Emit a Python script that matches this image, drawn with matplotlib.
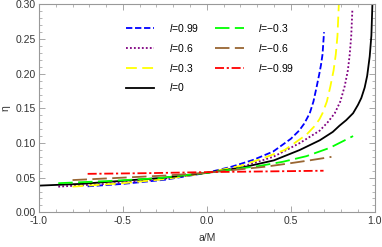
import matplotlib
matplotlib.use("Agg")
import matplotlib.pyplot as plt
from matplotlib.ticker import MultipleLocator

plt.rcParams['font.family'] = ['Liberation Sans', 'DejaVu Sans']
plt.rcParams['mathtext.fontset'] = 'custom'
plt.rcParams['mathtext.it'] = 'Liberation Sans:italic'
plt.rcParams['mathtext.rm'] = 'Liberation Sans'

# values: (a/M, eta)
a_l099 = [-0.71, -0.5, -0.25, 0.0, 0.15, 0.276, 0.395, 0.50, 0.55, 0.58, 0.613,
          0.635, 0.653, 0.67, 0.68, 0.689, 0.698]
eta_l099 = [0.0375, 0.041, 0.047, 0.057, 0.066, 0.0756, 0.0877, 0.106, 0.118, 0.128, 0.143,
            0.160, 0.180, 0.200, 0.213, 0.228, 0.26]

a_l06 = [-0.885, -0.6, -0.3, 0.0, 0.2, 0.395, 0.554, 0.673, 0.72, 0.762, 0.795,
         0.821, 0.84, 0.851, 0.86, 0.867]
eta_l06 = [0.037, 0.041, 0.047, 0.057, 0.065, 0.080, 0.100, 0.118, 0.130, 0.143, 0.160,
           0.182, 0.205, 0.228, 0.255, 0.2935]

a_l03 = [-0.80, -0.5, -0.25, 0.0, 0.2, 0.335, 0.464, 0.593, 0.64, 0.67, 0.689,
         0.715, 0.736, 0.755, 0.768, 0.778, 0.786]
eta_l03 = [0.037, 0.042, 0.048, 0.057, 0.067, 0.078, 0.090, 0.112, 0.124, 0.134, 0.143,
           0.160, 0.182, 0.205, 0.228, 0.255, 0.30]

a_l0 = [-1.0, -0.75, -0.5, -0.25, 0.0, 0.2, 0.4, 0.554, 0.673, 0.75, 0.79, 0.83,
        0.871, 0.9, 0.92, 0.94, 0.955, 0.97, 0.98, 0.986]
eta_l0 = [0.0385, 0.041, 0.0455, 0.050, 0.057, 0.064, 0.075, 0.090, 0.104, 0.116, 0.125, 0.133,
          0.143, 0.155, 0.165, 0.180, 0.197, 0.225, 0.255, 0.30]

a_lm03 = [-0.885, -0.6, -0.3, 0.0, 0.315, 0.454, 0.593, 0.732, 0.871]
eta_lm03 = [0.042, 0.045, 0.049, 0.057, 0.067, 0.073, 0.081, 0.093, 0.110]

a_lm06 = [-0.80, -0.5, -0.25, 0.0, 0.355, 0.474, 0.613, 0.742]
eta_lm06 = [0.0465, 0.050, 0.053, 0.057, 0.066, 0.070, 0.075, 0.080]

a_lm099 = [-0.71, -0.35, 0.0, 0.35, 0.695]
eta_lm099 = [0.0555, 0.0565, 0.058, 0.059, 0.060]

labels = ["$l$=0.99", "$l$=0.6", "$l$=0.3", "$l$=0",
          "$l$=\u22120.3", "$l$=\u22120.6", "$l$=\u22120.99"]

series = [
    (a_l099, eta_l099, "#0000ff", (0, (3.5, 1.5))),
    (a_l06, eta_l06, "#800080", (0, (1, 1.2))),
    (a_l03, eta_l03, "#ffff00", (0, (6, 3))),
    (a_l0, eta_l0, "#000000", "-"),
    (a_lm03, eta_lm03, "#00ff00", (0, (8, 3))),
    (a_lm06, eta_lm06, "#996633", (0, (8, 3))),
    (a_lm099, eta_lm099, "#ff0000", (0, (5, 1.5, 1.2, 1.5))),
]

fig = plt.figure(figsize=(3.82, 2.47), dpi=100)
ax = fig.add_axes([0.102, 0.1405, 0.879, 0.8415])

for (a, eta, col, ls), lab in zip(series, labels):
    ax.plot(a, eta, color=col, linestyle=ls, linewidth=1.3, label=lab)

ax.set_xlim(-1, 1)
ax.set_ylim(0, 0.3)
ax.xaxis.set_major_locator(MultipleLocator(0.5))
ax.xaxis.set_minor_locator(MultipleLocator(0.1))
ax.yaxis.set_major_locator(MultipleLocator(0.05))
ax.yaxis.set_minor_locator(MultipleLocator(0.01))
ax.xaxis.set_major_formatter(matplotlib.ticker.FormatStrFormatter('%.1f'))
ax.yaxis.set_major_formatter(matplotlib.ticker.FormatStrFormatter('%.2f'))

ax.tick_params(which='both', direction='in', top=True, right=True,
               color='#999999', labelsize=7.5, labelcolor='#333333')
ax.tick_params(axis='x', pad=3)
ax.tick_params(axis='y', pad=2)
ax.tick_params(which='major', length=4, width=0.6)
ax.tick_params(which='minor', length=2, width=0.5)
for sp in ax.spines.values():
    sp.set_color('#999999')
    sp.set_linewidth(0.8)

ax.set_xlabel("a/M", fontsize=7.5, color='#333333', labelpad=5)
ax.set_ylabel("\u03b7", fontsize=7.5, color='#333333', labelpad=4)

ax.legend(ncol=2, frameon=False, fontsize=7.5, loc='upper left',
          bbox_to_anchor=(126 / 382, 1 - 22 / 247), bbox_transform=fig.transFigure,
          borderpad=0, borderaxespad=0, handlelength=2.7, handletextpad=1.4,
          columnspacing=1.6, labelspacing=0.75)

fig.savefig("out.png", dpi=100)
